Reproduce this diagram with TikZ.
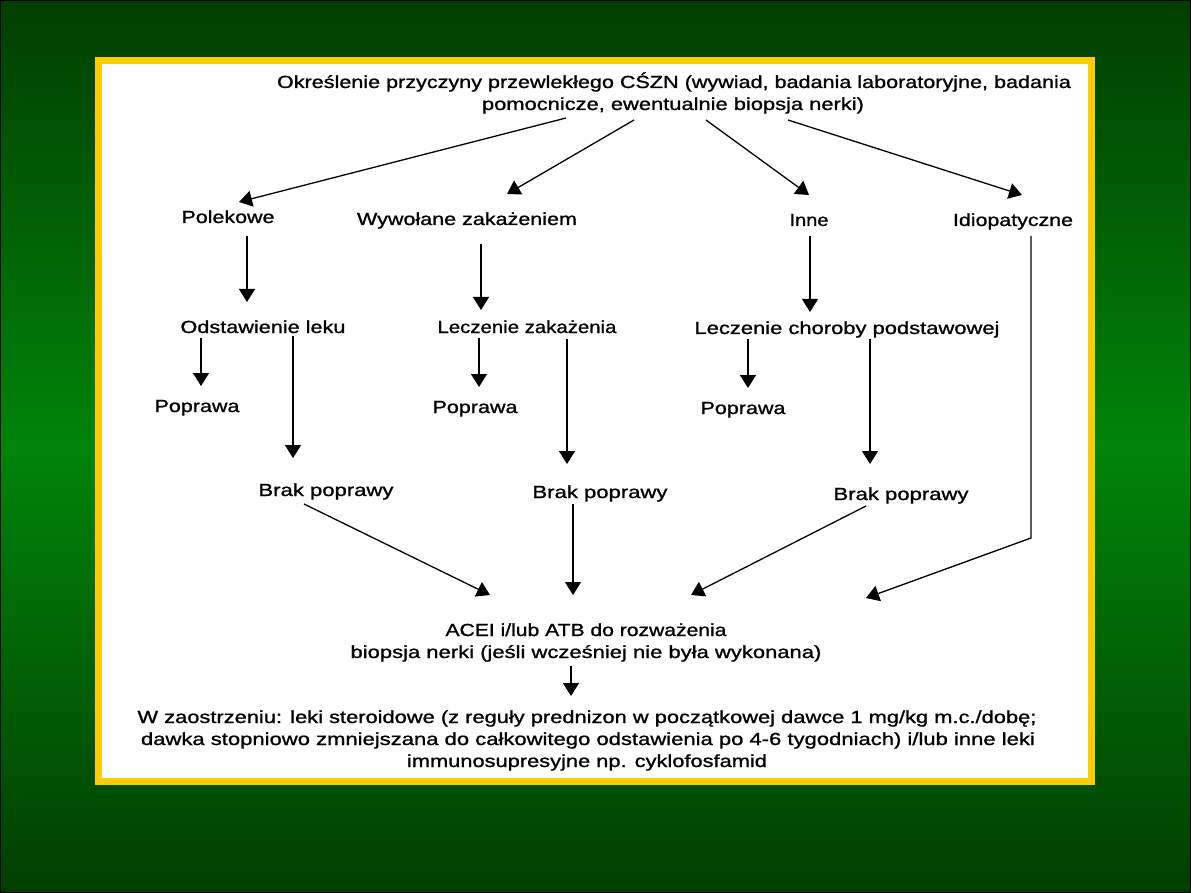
\documentclass[tikz,border=0pt]{standalone}
\usepackage{fontspec}
\setmainfont{Liberation Sans}
\usepackage{graphicx}
\usetikzlibrary{arrows.meta}
\definecolor{gdark}{RGB}{0,62,0}
\definecolor{gmid}{RGB}{0,132,8}
\definecolor{yel}{RGB}{255,204,0}
\newlength\fitlen
\newcommand\fitw[2]{\settowidth\fitlen{#2}\pgfmathsetmacro\fitf{#1/\fitlen}\scalebox{\fitf}[1]{#2}}
\begin{document}
\begin{tikzpicture}[x=1pt,y=-1pt,
  lbl/.style={inner sep=0pt, font=\fontsize{17.5}{20}\selectfont\addfontfeature{FakeBold=1}, text height=15pt, text depth=1pt},
  arr/.style={line width=1.3pt, -{Triangle[width=16pt,length=13pt]}}]
\useasboundingbox (0,0) rectangle (1191,893);
\shade[top color=gdark, bottom color=gdark, middle color=gmid] (0,0) rectangle (1191,893);
\draw[black, line width=1pt] (0.5,0.5) rectangle (1190.5,892.5);
\draw[draw=yel, line width=7pt, fill=white] (98.5,60.5) rectangle (1091.5,781.5);

\node[lbl] (t1) at (674,81) {\fitw{794}{Określenie przyczyny przewlekłego CŚZN (wywiad, badania laboratoryjne, badania}};
\node[lbl] (t2) at (673,103) {\fitw{382}{pomocnicze, ewentualnie biopsja nerki)}};

\node[lbl] (pol) at (228,216) {\fitw{93}{Polekowe}};
\node[lbl] (wyw) at (467,218) {\fitw{220}{Wywołane zakażeniem}};
\node[lbl] (inne) at (809,219) {\fitw{39}{Inne}};
\node[lbl] (idio) at (1013,219) {\fitw{120}{Idiopatyczne}};

\node[lbl] (ods) at (263,326) {\fitw{165}{Odstawienie leku}};
\node[lbl] (lzak) at (527,326) {\fitw{179}{Leczenie zakażenia}};
\node[lbl] (lchor) at (847,327) {\fitw{305}{Leczenie choroby podstawowej}};

\node[lbl] (pop1) at (197,405) {\fitw{85}{Poprawa}};
\node[lbl] (pop2) at (475,406) {\fitw{85}{Poprawa}};
\node[lbl] (pop3) at (743,407) {\fitw{85}{Poprawa}};

\node[lbl] (brak1) at (326,489) {\fitw{135}{Brak poprawy}};
\node[lbl] (brak2) at (600,491) {\fitw{135}{Brak poprawy}};
\node[lbl] (brak3) at (901,493) {\fitw{135}{Brak poprawy}};

\node[lbl] (acei) at (586,629) {\fitw{281}{ACEI i/lub ATB do rozważenia}};
\node[lbl] (biop) at (586,651) {\fitw{471}{biopsja nerki (jeśli wcześniej nie była wykonana)}};

\node[lbl] (w1) at (587,716) {\fitw{899}{W zaostrzeniu: leki steroidowe (z reguły prednizon w początkowej dawce 1 mg/kg m.c./dobę;}};
\node[lbl] (w2) at (588,738) {\fitw{894}{dawka stopniowo zmniejszana do całkowitego odstawienia po 4-6 tygodniach) i/lub inne leki}};
\node[lbl] (w3) at (587,760) {\fitw{360}{immunosupresyjne np. cyklofosfamid}};

% top arrows
\draw[arr] ([shift={(-107,15)}]t2.center) -- ([shift={(11,-14)}]pol.center);
\draw[arr] ([shift={(-39,17)}]t2.center) -- ([shift={(40,-24)}]wyw.center);
\draw[arr] ([shift={(33,17)}]t2.center) -- ([shift={(0,-24)}]inne.center);
\draw[arr] ([shift={(115,17)}]t2.center) -- ([shift={(9,-24)}]idio.center);

% vertical arrows
\draw[arr] ([shift={(19,20)}]pol.center) -- ([shift={(-16,-24)}]ods.center);
\draw[arr] ([shift={(-62,12)}]ods.center) -- ([shift={(4,-19)}]pop1.center);
\draw[arr] ([shift={(30,10)}]ods.center) -- ([shift={(-33,-31)}]brak1.center);
\draw[arr] ([shift={(14,26)}]wyw.center) -- ([shift={(-46,-16)}]lzak.center);
\draw[arr] ([shift={(-48,12)}]lzak.center) -- ([shift={(4,-19)}]pop2.center);
\draw[arr] ([shift={(40,13)}]lzak.center) -- ([shift={(-33,-27)}]brak2.center);
\draw[arr] ([shift={(1,17)}]inne.center) -- ([shift={(-37,-15)}]lchor.center);
\draw[arr] ([shift={(-99,12)}]lchor.center) -- ([shift={(5,-19)}]pop3.center);
\draw[arr] ([shift={(23,12)}]lchor.center) -- ([shift={(-31,-29)}]brak3.center);

% converging arrows
\draw[arr] ([shift={(18,17)}]idio.center) -- ++(0,302) -- ([shift={(280,-31)}]acei.center);
\draw[arr] ([shift={(-22,15)}]brak1.center) -- ([shift={(-96,-34)}]acei.center);
\draw[arr] ([shift={(-27,13)}]brak2.center) -- ([shift={(-13,-34)}]acei.center);
\draw[arr] ([shift={(-35,13)}]brak3.center) -- ([shift={(105,-34)}]acei.center);
\draw[arr] ([shift={(-15,15)}]biop.center) -- ([shift={(-16,-20)}]w1.center);
\end{tikzpicture}
\end{document}
